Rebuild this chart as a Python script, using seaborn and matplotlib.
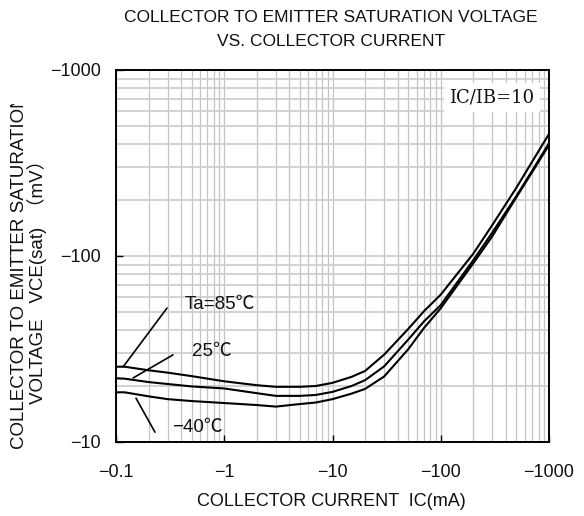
import numpy as np
import pandas as pd
import matplotlib
matplotlib.use("Agg")
import matplotlib.pyplot as plt
import seaborn as sns
from matplotlib.ticker import FixedLocator, FixedFormatter, NullFormatter, LogLocator
from matplotlib.transforms import Bbox, TransformedBbox

# ---- data ----
ic_ma = [0.1, 0.12, 0.2, 0.3, 0.5, 1, 2, 3, 5, 7, 10, 15, 20, 30, 50, 70, 100, 200, 300, 500, 700, 1000]
vce_85 = [25.4, 25.4, 24.3, 23.6, 22.6, 21.2, 20.2, 19.8, 19.8, 20.0, 20.8, 22.4, 24.1, 29.5, 40.5, 50.5, 62, 103, 147, 233, 322, 453]
vce_25 = [22.0, 21.9, 21.0, 20.5, 19.9, 19.4, 18.3, 17.7, 17.7, 17.9, 18.6, 20.0, 21.5, 25.5, 35.5, 44.5, 54.5, 95, 134, 210, 288, 404]
vce_m40 = [18.5, 18.5, 17.6, 17.0, 16.6, 16.2, 15.8, 15.5, 16.0, 16.3, 17.0, 18.2, 19.3, 22.5, 31.5, 41.0, 52.4, 91.4, 128, 207, 283, 395]
series_names = ["85", "25", "-40"]

x_ticks = [0.1, 1, 10, 100, 1000]
x_ticklabels = ["\u22120.1", "\u22121", "\u221210", "\u2212100", "\u22121000"]
y_ticks = [10, 100, 1000]
y_ticklabels = ["\u221210", "\u2212100", "\u22121000"]

title_lines = ["COLLECTOR TO EMITTER SATURATION VOLTAGE", "VS. COLLECTOR CURRENT"]
xlabel = "COLLECTOR CURRENT  IC(mA)"
ylabel_lines = ["COLLECTOR TO EMITTER SATURATION", "VOLTAGE   VCE(sat)  \uff08mV\uff09"]
cond_text = "IC/IB=10"
temp_labels = ["Ta=85\u2103", "25\u2103", "\u221240\u2103"]

df = pd.DataFrame({
    "IC": ic_ma * 3,
    "VCE": vce_85 + vce_25 + vce_m40,
    "Ta": [series_names[0]] * len(ic_ma) + [series_names[1]] * len(ic_ma) + [series_names[2]] * len(ic_ma),
})

# ---- style ----
sns.set_theme(style="white")
fams = ["Liberation Sans", "Noto Sans CJK JP", "DejaVu Sans"]
plt.rcParams["font.family"] = fams
plt.rcParams["axes.unicode_minus"] = True

W, H = 584, 516
fig = plt.figure(figsize=(W / 100, H / 100), dpi=100)
ax = fig.add_axes([116 / W, (H - 442) / H, (549 - 116) / W, (442 - 70) / H])

sns.lineplot(data=df, x="IC", y="VCE", hue="Ta", palette=["black"] * 3,
             estimator=None, linewidth=1.5, legend=False, ax=ax, zorder=3)

ax.set_xscale("log")
ax.set_yscale("log")
ax.set_xlim(0.1, 1000)
ax.set_ylim(10, 1000)

ax.xaxis.set_major_locator(FixedLocator(x_ticks))
ax.xaxis.set_major_formatter(FixedFormatter(x_ticklabels))
ax.yaxis.set_major_locator(FixedLocator(y_ticks))
ax.yaxis.set_major_formatter(FixedFormatter(y_ticklabels))
ax.xaxis.set_minor_locator(LogLocator(base=10, subs=np.arange(2, 10)))
ax.yaxis.set_minor_locator(LogLocator(base=10, subs=np.arange(2, 10)))
ax.xaxis.set_minor_formatter(NullFormatter())
ax.yaxis.set_minor_formatter(NullFormatter())

ax.tick_params(axis="both", which="major", direction="in", length=5, width=1.0, color="black",
               labelsize=13, labelcolor="#111111", bottom=True, left=True)
ax.tick_params(axis="x", which="major", pad=16)
ax.tick_params(axis="y", which="major", pad=11)
ax.tick_params(axis="both", which="minor", length=0)

ax.grid(True, which="both", axis="x", color="#c4c4c4", linewidth=0.9, zorder=0)
ax.grid(True, which="both", axis="y", color="#cfcfcf", linewidth=1.3, zorder=0)
ax.set_axisbelow(True)
for s in ax.spines.values():
    s.set_color("black")
    s.set_linewidth(1.4)
ax.set_xlabel("")
ax.set_ylabel("")

# condition text
ax.text(0.868, 0.927, cond_text, transform=ax.transAxes, ha="center", va="center",
        fontsize=13, family=["DejaVu Serif"], color="#111111", zorder=5,
        bbox=dict(boxstyle="square,pad=0.3", facecolor="white", edgecolor="none"))

# temperature labels with leader lines
lead = dict(arrowstyle="-", color="black", lw=1.2, shrinkA=0, shrinkB=0)
ax.annotate("", xy=(0.116, 25.3), xytext=(0.296, 52.5), arrowprops=lead, zorder=4)
ax.annotate("", xy=(0.144, 22.1), xytext=(0.336, 29.4), arrowprops=lead, zorder=4)
ax.annotate("", xy=(0.153, 17.2), xytext=(0.229, 11.3), arrowprops=lead, zorder=4)
ax.text(0.43, 54.6, temp_labels[0], ha="left", va="center", fontsize=13.5, family=fams, color="#111111")
ax.text(0.50, 30.5, temp_labels[1], ha="left", va="center", fontsize=13.5, family=fams, color="#111111")
ax.text(0.33, 11.9, temp_labels[2], ha="left", va="center", fontsize=13.5, family=fams, color="#111111")

# title
fig.text(331 / W, 1 - 18 / H, title_lines[0], ha="center", va="center", fontsize=12.5, color="#111111")
fig.text(331 / W, 1 - 42 / H, title_lines[1], ha="center", va="center", fontsize=12.5, color="#111111")

# x label
fig.text(331 / W, 1 - 501 / H, xlabel, ha="center", va="center", fontsize=13, color="#111111")

# y label (two lines, first clipped at top like the reference)
t1 = fig.text(20 / W, 1 - 449 / H, ylabel_lines[0], rotation=90, ha="center", va="bottom",
              fontsize=13.5, color="#111111")
t1.set_clip_box(TransformedBbox(Bbox([[0, 0], [1, 1 - 104 / H]]), fig.transFigure))
t1.set_clip_on(True)
fig.text(37 / W, 1 - 277 / H, ylabel_lines[1], rotation=90, ha="center", va="center",
         fontsize=13.5, color="#111111")

fig.savefig("out.png", dpi=100, facecolor="white")
